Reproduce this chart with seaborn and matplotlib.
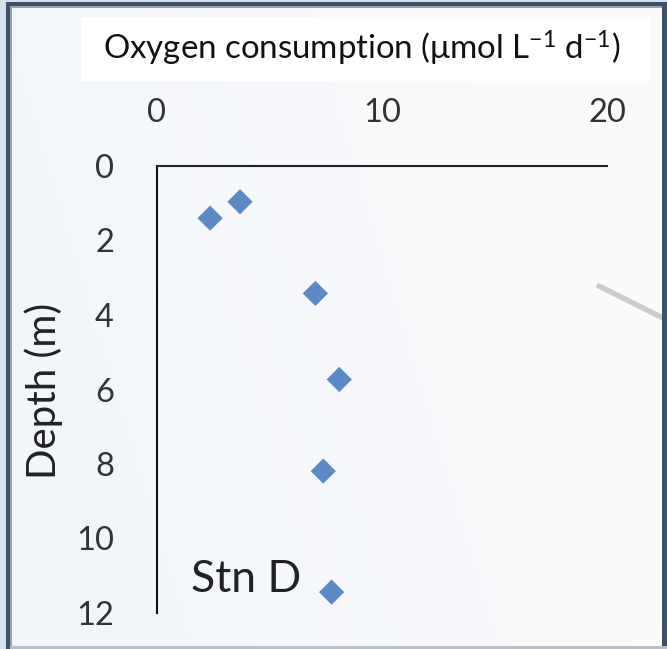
import numpy as np
import pandas as pd
import matplotlib
matplotlib.use("Agg")
import matplotlib.pyplot as plt
import seaborn as sns
from matplotlib.patches import Rectangle
from matplotlib.lines import Line2D

# Oxygen consumption profile, station D
consumption = [2.36, 3.69, 7.04, 8.10, 7.39, 7.76]   # µmol L-1 d-1
depth = [1.40, 0.96, 3.42, 5.73, 8.19, 11.44]        # m
x_ticks = [0, 10, 20]
y_ticks = [0, 2, 4, 6, 8, 10, 12]
station_label = "Stn D"
x_title = r"Oxygen consumption (μmol L$\mathregular{^{-1}}$ d$\mathregular{^{-1}}$)"
y_title = "Depth (m)"

df = pd.DataFrame({"consumption": consumption, "depth": depth})

sns.set_theme(style="white")
plt.rcParams["font.family"] = ["Lato", "DejaVu Sans"]
plt.rcParams["mathtext.fontset"] = "custom"
plt.rcParams["mathtext.rm"] = "Lato"
plt.rcParams["mathtext.it"] = "Lato:italic"
plt.rcParams["mathtext.bf"] = "Lato:bold"

W, H = 667, 649
fig = plt.figure(figsize=(W / 100, H / 100), dpi=100)


def fx(px):
    return px / W


def fy(py):
    return 1 - py / H


# soft background wash: bluish on the left fading to near white on the right
bg = fig.add_axes([0, 0, 1, 1], zorder=0)
bg.set_axis_off()
gx = np.linspace(0, 1, 300)
gy = np.linspace(0, 1, 300)
GX, GY = np.meshgrid(gx, gy)
t = np.clip((GX * 1.2 + (1 - GY) * 0.35 - 0.25), 0, 1)
c0 = np.array([0.950, 0.966, 0.985])
c1 = np.array([0.982, 0.982, 0.984])
img = c0[None, None, :] * (1 - t[..., None]) + c1[None, None, :] * t[..., None]
bg.imshow(img, extent=[0, 1, 0, 1], aspect="auto", origin="upper")
bg.set_xlim(0, 1)
bg.set_ylim(0, 1)

# frame around the panel
frame = [
    (0, 0, 6, H, "#d3e1ee"),
    (0, 0, W, 2, "#d3e1ee"),
    (6, 2, 4, H - 2, "#3f5169"),
    (6, 2, W - 6, 4, "#3f5169"),
    (10, 6, 2, H - 6, "#9aa3ad"),
    (10, 6, W - 10, 2, "#9aa3ad"),
    (662, 2, 5, H - 2, "#3f5169"),
    (10, 646, W - 10, 3, "#b8c0c8"),
]

# grey connector line on the right
fig.add_artist(Line2D([fx(597), fx(667)], [fy(285), fy(320)],
                      color="#cbcbcb", lw=3.8, solid_capstyle="butt", zorder=1))

for x0, y0, w, h, c in frame:
    fig.add_artist(Rectangle((fx(x0), fy(y0 + h)), w / W, h / H,
                             facecolor=c, edgecolor="none", zorder=2))

# white box holding the axis title
fig.add_artist(Rectangle((fx(81), fy(81)), (649 - 81) / W, (81 - 17) / H,
                         facecolor="white", edgecolor="none", zorder=3))
fig.text(fx(362), fy(48), x_title, ha="center", va="center",
         fontsize=23.8, color="#111111", zorder=4)

# main axes
ax = fig.add_axes([fx(157), fy(613), (607 - 157) / W, (613 - 166) / H], zorder=5)
ax.patch.set_alpha(0)

sns.scatterplot(data=df, x="consumption", y="depth", ax=ax, marker="D",
                s=165, color="#5b8ac6", edgecolor="none", linewidth=0, zorder=6)

ax.set_xlim(0, 20)
ax.set_ylim(12, 0)
ax.set_xticks(x_ticks)
ax.set_yticks(y_ticks)
ax.set_xticklabels([str(v) for v in x_ticks])
ax.set_yticklabels([str(v) for v in y_ticks])
ax.xaxis.tick_top()
ax.tick_params(axis="x", length=0, pad=27, labelsize=23.5, labelcolor="#333333")
ax.tick_params(axis="y", length=0, pad=31, labelsize=23.5, labelcolor="#333333")
ax.set_xlabel("")
ax.set_ylabel("")

for side in ("right", "bottom"):
    ax.spines[side].set_visible(False)
ax.spines["top"].set_color("#222222")
ax.spines["left"].set_color("#111111")
ax.spines["top"].set_linewidth(1.5)
ax.spines["left"].set_linewidth(1.5)

ax.text(1.5, 11.44, station_label, ha="left", va="baseline",
        fontsize=32, color="#222222")

fig.text(fx(44), fy(391), y_title, rotation=90, ha="center", va="center",
         fontsize=29, color="#222222", zorder=6)

fig.savefig("out.png", dpi=100)
